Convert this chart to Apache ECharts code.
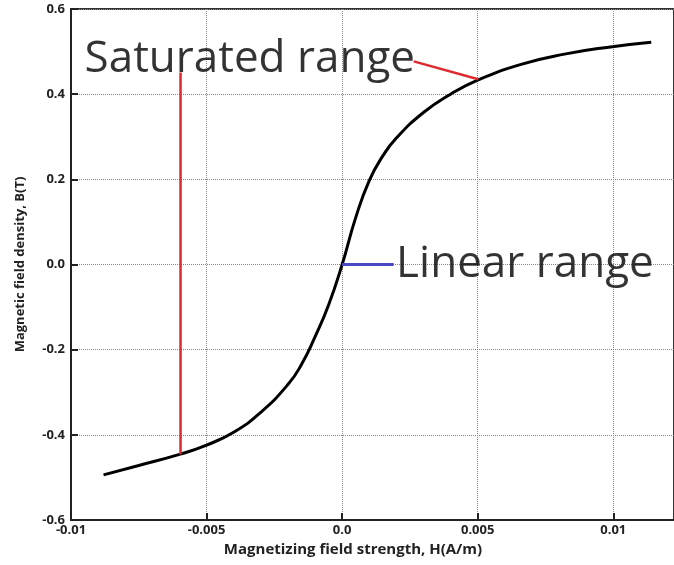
<!DOCTYPE html>
<html>
<head>
<meta charset="utf-8">
<script src="https://cdn.jsdelivr.net/npm/echarts@6/dist/echarts.min.js"></script>
<style>
    html, body { margin: 0; padding: 0; background: #fff; }
    #chart { width: 674px; height: 565px; }
</style>
</head>
<body>
<div id="chart"></div>
<script>
// magnetization curve
var fieldH = [-0.0088, -0.0075, -0.006, -0.005, -0.004, -0.003, -0.002, -0.0015, -0.001, -0.0005, 0, 0.0005, 0.001, 0.0015, 0.002, 0.003, 0.004, 0.005, 0.0066, 0.0082, 0.0099, 0.0114];
var densityB = [-0.494, -0.472, -0.446, -0.424, -0.394, -0.347, -0.282, -0.235, -0.17, -0.095, 0, 0.11, 0.197, 0.255, 0.297, 0.357, 0.4, 0.433, 0.47, 0.494, 0.511, 0.522];

// tick labels
var xTickValues = [-0.01, -0.005, 0, 0.005, 0.01];
var xTickLabels = ['-0.01', '-0.005', '0.0', '0.005', '0.01'];
var yTickValues = [-0.6, -0.4, -0.2, 0, 0.2, 0.4, 0.6];
var yTickLabels = ['-0.6', '-0.4', '-0.2', '0.0', '0.2', '0.4', '0.6'];

// annotations (data coordinates)
var noteNames = ['Saturated range', 'Linear range'];
var notePoints = [[-0.0095, 0.481], [0.00199, 0]];
var satVertical = [[-0.00596, 0.451], [-0.00596, -0.446]];
var satLeader = [[0.00264, 0.477], [0.00502, 0.435]];
var linLeader = [[0, 0], [0.0019, 0]];

function pickLabel(values, labels) {
    return function (v) {
        for (var i = 0; i < values.length; i++) {
            if (Math.abs(values[i] - v) < 1e-9) return labels[i];
        }
        return '';
    };
}

var curve = fieldH.map(function (h, i) { return [h, densityB[i]]; });
var notes = noteNames.map(function (n, i) { return { name: n, value: notePoints[i] }; });

var font = 'Open Sans';
var chart = echarts.init(document.getElementById('chart'));
chart.setOption({
    animation: false,
    grid: {
        left: 71, top: 9, right: -2, bottom: 45,
        show: true, borderColor: '#333', borderWidth: 2
    },
    xAxis: {
        type: 'value',
        min: -0.01, max: 0.01224, interval: 0.005,
        name: 'Magnetizing field strength, H(A/m)',
        nameLocation: 'middle', nameGap: 21,
        nameTextStyle: { fontFamily: font, fontSize: 15, fontWeight: 'bold', color: '#222', padding: [0, 39, 0, 0] },
        axisLine: { onZero: false, lineStyle: { color: '#222', width: 2 } },
        axisTick: { inside: true, length: 7, lineStyle: { color: '#222', width: 2 } },
        axisLabel: { fontFamily: font, fontSize: 13, fontWeight: 'bold', color: '#222', margin: 4, showMaxLabel: false, formatter: pickLabel(xTickValues, xTickLabels) },
        splitLine: { lineStyle: { color: '#888', type: 'dotted', width: 1 } }
    },
    yAxis: {
        type: 'value',
        min: -0.6, max: 0.6, interval: 0.2,
        name: 'Magnetic field density, B(T)',
        nameLocation: 'middle', nameGap: 44,
        nameTextStyle: { fontFamily: font, fontSize: 13, fontWeight: 'bold', color: '#222' },
        axisLine: { onZero: false, lineStyle: { color: '#222', width: 2 } },
        axisTick: { inside: true, length: 7, lineStyle: { color: '#222', width: 2 } },
        axisLabel: { fontFamily: font, fontSize: 13, fontWeight: 'bold', color: '#222', margin: 6, formatter: pickLabel(yTickValues, yTickLabels) },
        splitLine: { lineStyle: { color: '#888', type: 'dotted', width: 1 } }
    },
    series: [{
        type: 'line',
        data: curve,
        smooth: 0.5,
        showSymbol: false,
        lineStyle: { color: '#000', width: 3 },
        z: 3
    }, {
        type: 'line', data: satVertical, showSymbol: false,
        lineStyle: { color: '#dc2a30', width: 2.5 }, z: 4
    }, {
        type: 'line', data: satLeader, showSymbol: false,
        lineStyle: { color: '#dc2a30', width: 2.5 }, z: 4
    }, {
        type: 'line', data: linLeader, showSymbol: false,
        lineStyle: { color: '#4848c0', width: 3 }, z: 4
    }, {
        type: 'scatter',
        data: notes,
        symbolSize: 0,
        label: {
            show: true, position: 'right', distance: 0,
            formatter: '{b}',
            fontFamily: font, fontSize: 44, fontWeight: 500, color: '#000'
        },
        z: 5
    }]
});
</script>
</body>
</html>
